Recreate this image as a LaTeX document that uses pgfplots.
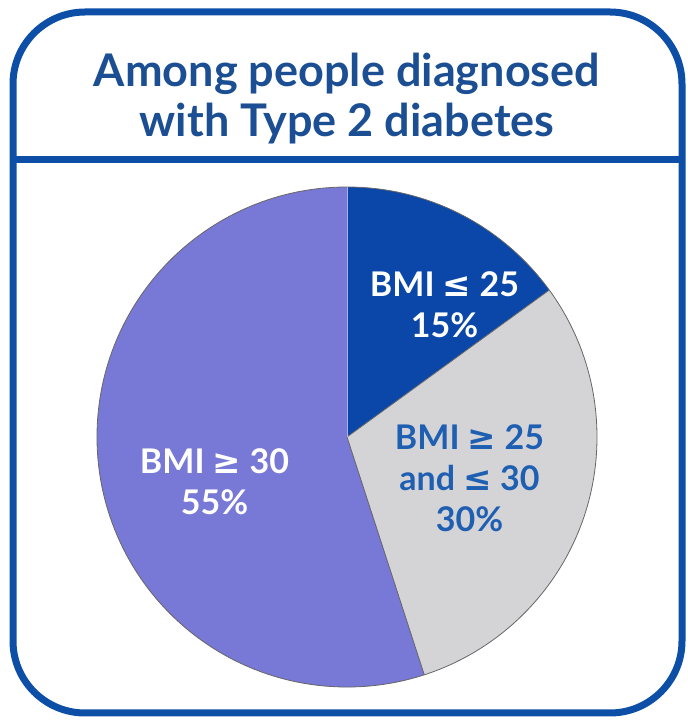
\documentclass[border=0pt]{standalone}
\usepackage{pgfplots}
\pgfplotsset{compat=1.18}
\usepackage{pgfplotstable}
\usepackage{fontspec}
\setmainfont{Lato}
\newfontfamily\symfont{DejaVu Sans}

\definecolor{framblue}{HTML}{0D4EA6}
\definecolor{titleblue}{HTML}{1B4E92}
\definecolor{slicedark}{HTML}{0A47A8}
\definecolor{slicegray}{HTML}{D4D4D6}
\definecolor{sliceviolet}{HTML}{7878D6}
\definecolor{labelblue}{HTML}{1F5FB2}

% share of people with Type 2 diabetes by BMI class, clockwise from 12 o'clock
\pgfplotstableread{
share
15
30
55
}\shares

\newcommand{\lesym}{{\symfont\char"2264}}
\newcommand{\gesym}{{\symfont\char"2265}}

\begin{document}
\begin{tikzpicture}[x=1pt,y=1pt]
\useasboundingbox (0,0) rectangle (688,721);

% slice angles from the table
\pgfplotstablegetelem{0}{share}\of\shares\global\let\sA\pgfplotsretval
\pgfplotstablegetelem{1}{share}\of\shares\global\let\sB\pgfplotsretval
\pgfplotstablegetelem{2}{share}\of\shares\global\let\sC\pgfplotsretval
\pgfmathsetmacro\aA{90}\global\let\aA\aA
\pgfmathsetmacro\aB{\aA-3.6*\sA}\global\let\aB\aB
\pgfmathsetmacro\aC{\aB-3.6*\sB}\global\let\aC\aC
\pgfmathsetmacro\aD{\aC-3.6*\sC}\global\let\aD\aD

% frame with title band
\draw[framblue, line width=7pt, rounded corners=72pt] (13,8) rectangle (682,709);
\draw[framblue, line width=7pt] (13,561) -- (682,561);
\node[titleblue, font=\bfseries\fontsize{45}{50}\selectfont, align=center] at (347,622)
  {Among people diagnosed\\with Type 2 diabetes};

\begin{axis}[
  at={(347pt,284pt)}, anchor=center,
  scale only axis, width=500pt, height=500pt,
  xmin=-1, xmax=1, ymin=-1, ymax=1,
  hide axis, clip=false]
  \fill[slicedark] (axis cs:0,0) -- (axis cs:{cos(\aA)},{sin(\aA)})
     arc[start angle=\aA, end angle=\aB, radius=250pt] -- cycle;
  \fill[slicegray] (axis cs:0,0) -- (axis cs:{cos(\aB)},{sin(\aB)})
     arc[start angle=\aB, end angle=\aC, radius=250pt] -- cycle;
  \fill[sliceviolet] (axis cs:0,0) -- (axis cs:{cos(\aC)},{sin(\aC)})
     arc[start angle=\aC, end angle=\aD, radius=250pt] -- cycle;
  \draw[black!60, line width=0.8pt] (axis cs:0,0) circle[radius=250pt];
  \draw[black!60, line width=0.8pt] (axis cs:{cos(\aB)},{sin(\aB)}) -- (axis cs:0,0)
     -- (axis cs:{cos(\aC)},{sin(\aC)});
  \draw[sliceviolet!60!white, line width=0.8pt] (axis cs:0,0) -- (axis cs:0,1);

  \node[white, font=\bfseries\fontsize{34}{41}\selectfont, align=center]
    at (axis cs:0.39,0.53) {BMI \lesym\ 25\\15\%};
  \node[labelblue, font=\bfseries\fontsize{34}{41}\selectfont, align=center]
    at (axis cs:0.49,-0.165) {BMI \gesym\ 25\\and \lesym\ 30\\30\%};
  \node[white, font=\bfseries\fontsize{34}{41}\selectfont, align=center]
    at (axis cs:-0.53,-0.18) {BMI \gesym\ 30\\55\%};
\end{axis}
\end{tikzpicture}
\end{document}
